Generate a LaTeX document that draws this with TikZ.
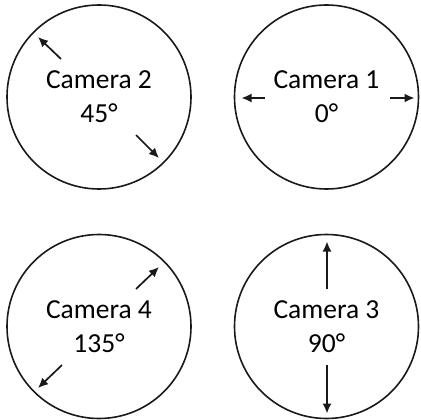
\documentclass[tikz,border=0pt]{standalone}
\usepackage{fontspec}
\setmainfont{Carlito}
\usetikzlibrary{arrows.meta}
\begin{document}
\begin{tikzpicture}[x=1pt,y=-1pt,
  cam/.style={circle,draw=black!90,line width=1.6pt,minimum size=184pt,inner sep=0pt,
    align=center,font=\fontsize{27.5}{34}\selectfont,text=black},
  dir/.style={line width=1.7pt,draw=black!90,-{Latex[length=10pt,width=9pt]}}]
\useasboundingbox (0,0) rectangle (421,420);
\node[cam] (c2) at (99,97) {Camera 2\\45\textdegree};
\node[cam] (c1) at (326.5,97) {Camera 1\\0\textdegree};
\node[cam] (c4) at (99,326.5) {Camera 4\\135\textdegree};
\node[cam] (c3) at (326.5,326.5) {Camera 3\\90\textdegree};
% camera 2 arrows
\coordinate (c2as) at ([shift={(-38,-38)}]c2.center);
\coordinate (c2at) at ([shift={(-61,-60)}]c2.center);
\coordinate (c2bs) at ([shift={(37,38)}]c2.center);
\coordinate (c2bt) at ([shift={(60,61)}]c2.center);
\draw[dir] (c2as) -- (c2at);
\draw[dir] (c2bs) -- (c2bt);
% camera 1 arrows
\coordinate (c1as) at ([shift={(-61.5,1)}]c1.center);
\coordinate (c1at) at ([shift={(-85,1)}]c1.center);
\coordinate (c1bs) at ([shift={(63.5,1)}]c1.center);
\coordinate (c1bt) at ([shift={(88,1)}]c1.center);
\draw[dir] (c1as) -- (c1at);
\draw[dir] (c1bs) -- (c1bt);
% camera 4 arrows
\coordinate (c4as) at ([shift={(37,-37.5)}]c4.center);
\coordinate (c4at) at ([shift={(60,-59.5)}]c4.center);
\coordinate (c4bs) at ([shift={(-37,38.5)}]c4.center);
\coordinate (c4bt) at ([shift={(-61,61.5)}]c4.center);
\draw[dir] (c4as) -- (c4at);
\draw[dir] (c4bs) -- (c4bt);
% camera 3 arrows
\coordinate (c3as) at ([shift={(0.5,-37.5)}]c3.center);
\coordinate (c3at) at ([shift={(0.5,-85)}]c3.center);
\coordinate (c3bs) at ([shift={(0.5,38.5)}]c3.center);
\coordinate (c3bt) at ([shift={(0.5,87)}]c3.center);
\draw[dir] (c3as) -- (c3at);
\draw[dir] (c3bs) -- (c3bt);
\end{tikzpicture}
\end{document}
